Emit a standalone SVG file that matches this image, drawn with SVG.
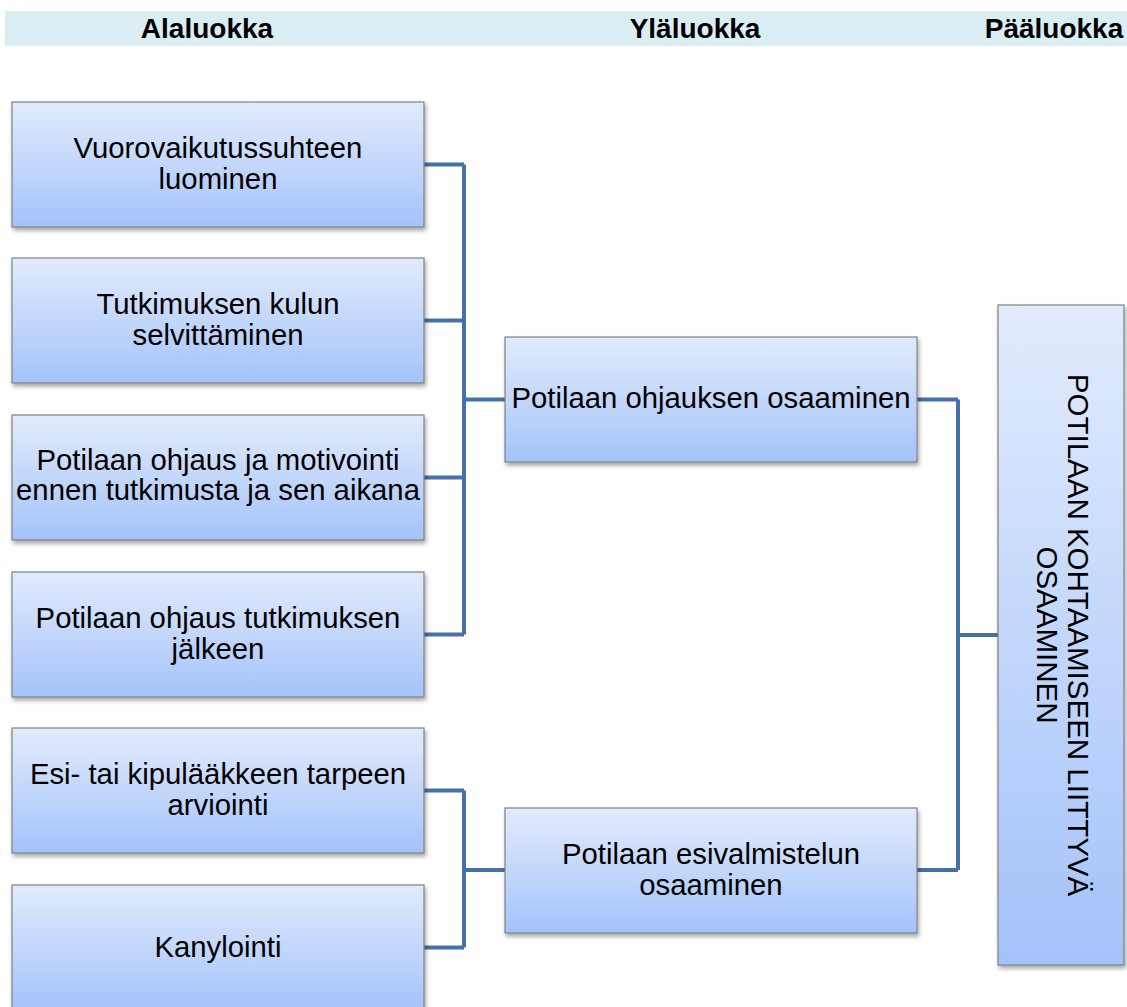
<svg xmlns="http://www.w3.org/2000/svg" width="1127" height="1007" viewBox="0 0 1127 1007">
<style>
.box{fill:url(#g);stroke:#808080;stroke-width:1.2;filter:url(#sh)}
.t{font-family:"Liberation Sans",Arial,sans-serif;font-size:29.3px;fill:#000;text-anchor:middle}
.h{font-family:"Liberation Sans",Arial,sans-serif;font-size:28px;font-weight:bold;fill:#000;text-anchor:middle}
.c{fill:none;stroke:#4670a8;stroke-width:4}
</style>
<defs>
<linearGradient id="g" x1="0" y1="0" x2="0" y2="1">
<stop offset="0" stop-color="#e2ebfc"/>
<stop offset="1" stop-color="#a4c3fa"/>
</linearGradient>
<filter id="sh" x="-10%" y="-10%" width="120%" height="130%">
<feDropShadow dx="1.5" dy="3" stdDeviation="2" flood-color="#000" flood-opacity="0.35"/>
</filter>
</defs>
<rect width="1127" height="1007" fill="#fff"/>
<g id="header">
<rect x="5" y="11" width="1122" height="35" fill="#daedf3"/>
<text class="h" x="207" y="38">Alaluokka</text>
<text class="h" x="695" y="38">Yläluokka</text>
<text class="h" x="1054" y="38">Pääluokka</text>
</g>
<g id="connectors">
<path class="c" d="M424 164.5H464M424 320.5H464M424 477.5H464M424 634.5H464M464 164.5V634.5M464 399.5H505"/>
<path class="c" d="M424 790.5H464M424 947.5H464M464 790.5V947.5M464 870H505"/>
<path class="c" d="M917 399.5H958M917 870H958M958 399.5V870M958 635H998"/>
</g>
<g id="n1"><rect class="box" x="12" y="102" width="412" height="125"/>
<text class="t" x="218" y="158">Vuorovaikutussuhteen</text><text class="t" x="218" y="189">luominen</text></g>
<g id="n2"><rect class="box" x="12" y="258" width="412" height="125"/>
<text class="t" x="218" y="314">Tutkimuksen kulun</text><text class="t" x="218" y="345">selvittäminen</text></g>
<g id="n3"><rect class="box" x="12" y="415" width="412" height="125"/>
<text class="t" x="218" y="470">Potilaan ohjaus ja motivointi</text><text class="t" x="218" y="500">ennen tutkimusta ja sen aikana</text></g>
<g id="n4"><rect class="box" x="12" y="572" width="412" height="125"/>
<text class="t" x="218" y="628">Potilaan ohjaus tutkimuksen</text><text class="t" x="218" y="659">jälkeen</text></g>
<g id="n5"><rect class="box" x="12" y="728" width="412" height="125"/>
<text class="t" x="218" y="784">Esi- tai kipulääkkeen tarpeen</text><text class="t" x="218" y="815">arviointi</text></g>
<g id="n6"><rect class="box" x="12" y="885" width="412" height="125"/>
<text class="t" x="218" y="957">Kanylointi</text></g>
<g id="m1"><rect class="box" x="505" y="337" width="412" height="125"/>
<text class="t" x="711" y="408">Potilaan ohjauksen osaaminen</text></g>
<g id="m2"><rect class="box" x="505" y="808" width="412" height="125"/>
<text class="t" x="711" y="864">Potilaan esivalmistelun</text><text class="t" x="711" y="895">osaaminen</text></g>
<g id="top"><rect class="box" x="998" y="305" width="126" height="660"/>
<g transform="translate(1061,635) rotate(90)">
<text class="t" style="font-size:29.5px" x="0" y="-7">POTILAAN KOHTAAMISEEN LIITTYVÄ</text>
<text class="t" style="font-size:29.5px" x="0" y="24">OSAAMINEN</text>
</g></g>
</svg>
